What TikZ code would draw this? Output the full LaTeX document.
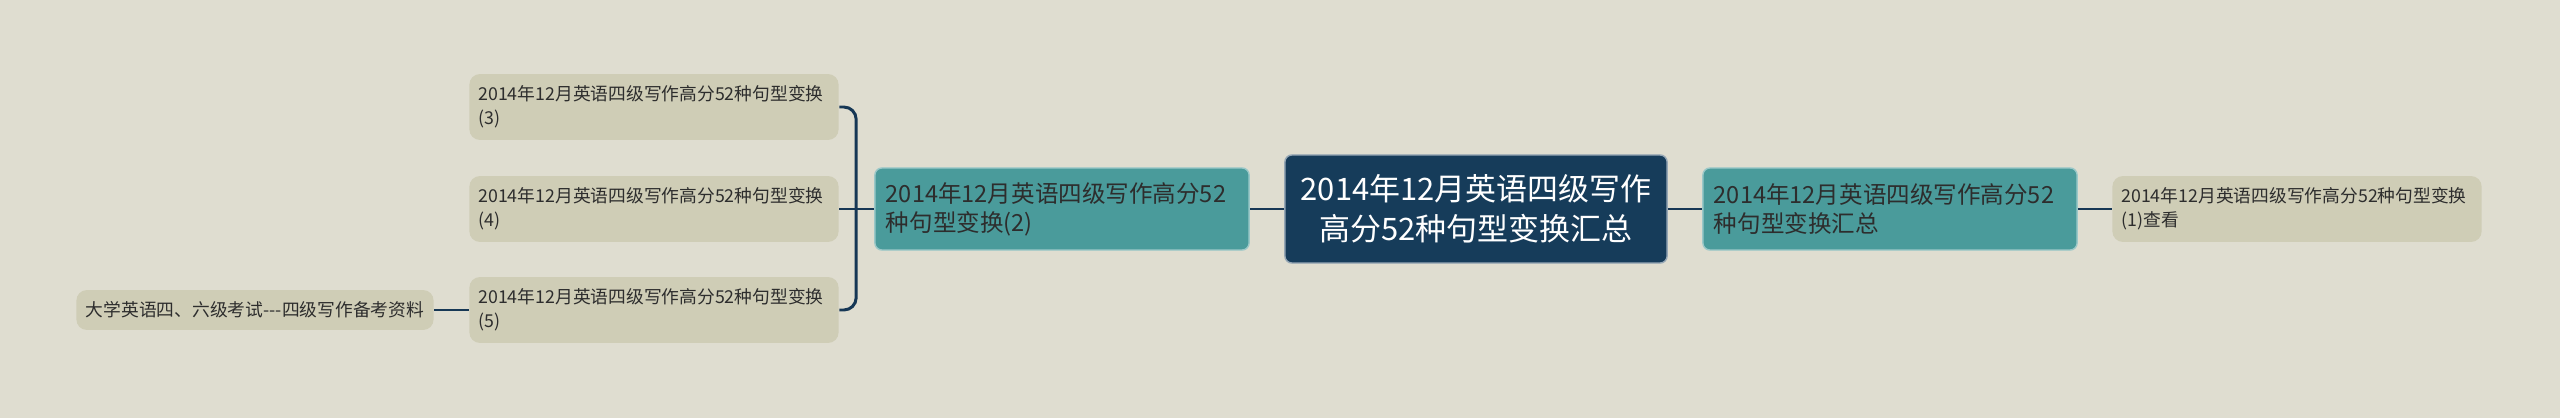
\documentclass[tikz,border=0pt]{standalone}
\usepackage{fontspec}
\setmainfont{Noto Sans CJK SC}
\usepackage{xcolor}
\usetikzlibrary{positioning}
\definecolor{bgcol}{RGB}{223,221,208}
\definecolor{rootcol}{RGB}{22,60,90}
\definecolor{tealcol}{RGB}{74,155,155}
\definecolor{leafcol}{RGB}{207,205,182}
\definecolor{linecol}{RGB}{22,55,85}
\definecolor{txtcol}{RGB}{45,45,45}

\begin{document}
\begin{tikzpicture}[x=0.01cm, y=-0.01cm,
    rootbox/.style={fill=rootcol, draw=white!55!rootcol, line width=0.4pt, rounded corners=2pt,
        text=white, align=center, minimum width=3.82cm, minimum height=1.08cm,
        font=\fontsize{8.8pt}{11.4pt}\selectfont},
    subbox/.style={fill=tealcol, draw=white!45!tealcol, line width=0.4pt, rounded corners=2pt,
        text=txtcol, align=left, text width=3.52cm, inner xsep=0.11cm, minimum height=0.82cm,
        font=\fontsize{6.7pt}{8.3pt}\selectfont},
    leafbox/.style={fill=leafcol, rounded corners=3pt, text=txtcol, align=left,
        text width=3.51cm, inner xsep=0.09cm, minimum height=0.60cm,
        font=\fontsize{5.05pt}{6.8pt}\selectfont},
    conn/.style={draw=linecol, line width=0.85pt}]

    % Background and frame
    \fill[bgcol] (0,0) rectangle (2560,418);
    \useasboundingbox (0,0) rectangle (2560,418);

    % Central topic
    \node[rootbox] (main) at (1476,209) {2014年12月英语四级写作\\高分52种句型变换汇总};

    % Right branch
    \node[subbox] (rightsub) at (1890,209) {2014年12月英语四级写作高分52\\种句型变换汇总};
    \node[leafbox] (note1) at (2297,209) {2014年12月英语四级写作高分52种句型变换\\(1)查看};

    % Left branch
    \node[subbox] (leftsub) at (1062,209) {2014年12月英语四级写作高分52\\种句型变换(2)};
    \node[leafbox] (note3) at (654,107) {2014年12月英语四级写作高分52种句型变换\\(3)};
    \node[leafbox] (note4) at (654,209) {2014年12月英语四级写作高分52种句型变换\\(4)};
    \node[leafbox] (note5) at (654,310) {2014年12月英语四级写作高分52种句型变换\\(5)};
    \node[leafbox, align=center, text width=3.39cm, minimum height=0.39cm] (extra) at (255,310)
        {大学英语四、六级考试-{}-{}-四级写作备考资料};

    % Connectors
    \draw[conn] (main.east) -- (rightsub.west);
    \draw[conn] (rightsub.east) -- (note1.west);
    \draw[conn] (main.west) -- (leftsub.east);
    \draw[conn] (leftsub.west) -- (note4.east);
    \foreach \n in {note3,note5}
        \draw[conn, rounded corners=3.5pt] ([xshift=-0.18cm]leftsub.west) |- (\n.east);
    \draw[conn] (note5.west) -- (extra.east);
\end{tikzpicture}
\end{document}
